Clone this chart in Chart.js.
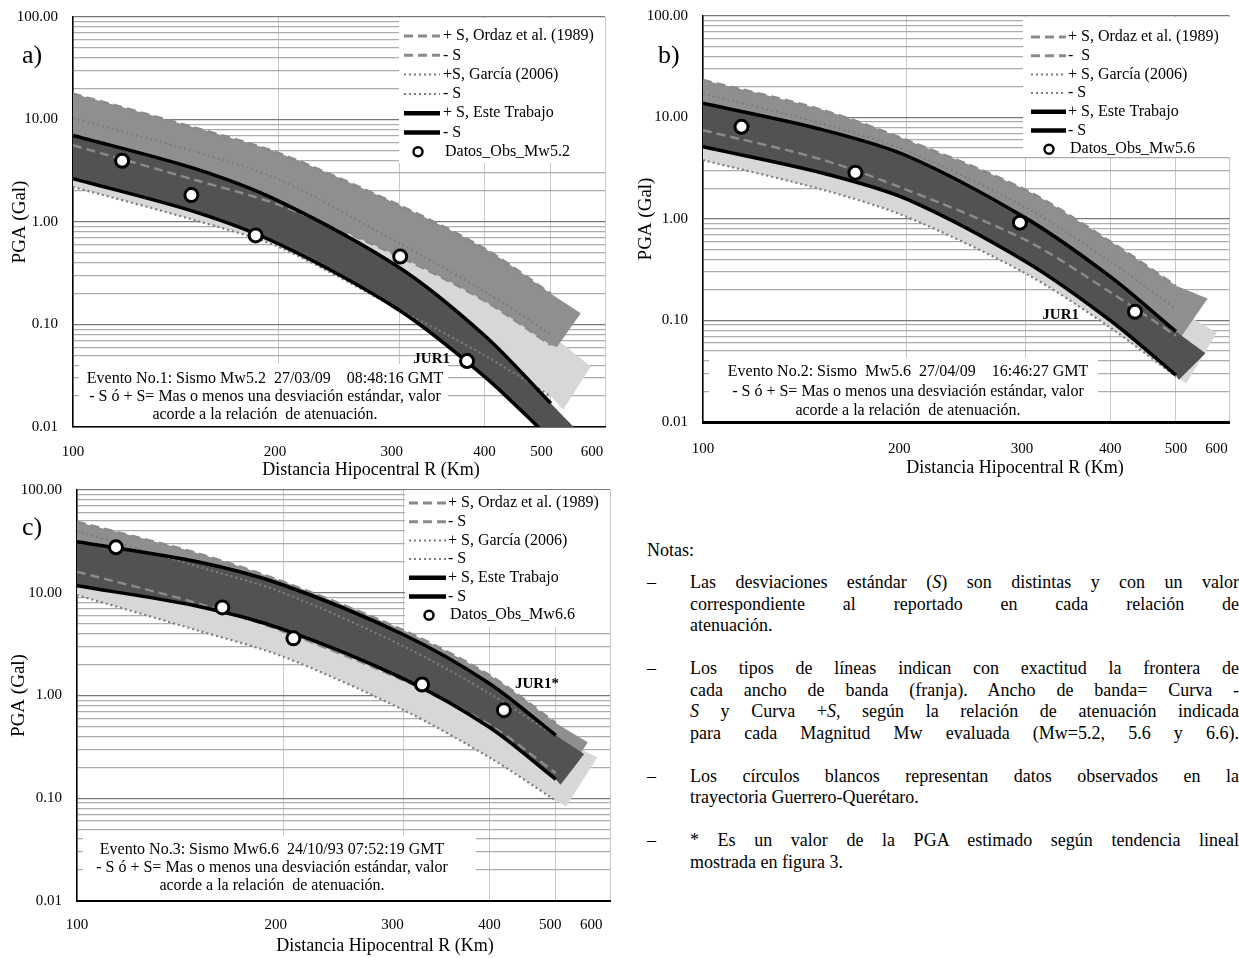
<!DOCTYPE html>
<html lang="es">
<head>
<meta charset="utf-8">
<title>PGA vs Distancia Hipocentral</title>
<script src="https://cdn.jsdelivr.net/npm/chart.js@4.4.1/dist/chart.umd.min.js"></script>
<style>
  html, body { margin: 0; padding: 0; background: #fff; }
  body { width: 1239px; height: 958px; position: relative; overflow: hidden;
         font-family: "Liberation Serif", "Times New Roman", serif; color: #000; }
  canvas { position: absolute; }
  #notas { position: absolute; left: 647px; top: 540px; width: 592px; font-size: 18px; line-height: 21.5px; }
  #notas .tit { margin-bottom: 10.75px; }
  #notas .nota { position: relative; margin-bottom: 21.5px; }
  #notas .guion { position: absolute; left: 0; top: 0; }
  #notas .texto { margin-left: 43px; width: 549px; }
  #notas .j { text-align: justify; text-align-last: justify; }
</style>
</head>
<body>
<canvas id="grafA" width="620" height="480" style="left:0;top:0"></canvas>
<canvas id="grafB" width="619" height="480" style="left:620px;top:0"></canvas>
<canvas id="grafC" width="620" height="482" style="left:0;top:476px"></canvas>

<div id="notas">
  <div class="tit">Notas:</div>
  <div class="nota"><span class="guion">–</span>
    <div class="texto">
      <div class="j">Las desviaciones estándar (<i>S</i>) son distintas y con un valor</div>
      <div class="j">correspondiente al reportado en cada relación de</div>
      <div>atenuación.</div>
    </div>
  </div>
  <div class="nota"><span class="guion">–</span>
    <div class="texto">
      <div class="j">Los tipos de líneas indican con exactitud la frontera de</div>
      <div class="j">cada ancho de banda (franja). Ancho de banda= Curva -</div>
      <div class="j"><i>S</i> y Curva +<i>S</i>, según la relación de atenuación indicada</div>
      <div class="j">para cada Magnitud Mw evaluada (Mw=5.2, 5.6 y 6.6).</div>
    </div>
  </div>
  <div class="nota"><span class="guion">–</span>
    <div class="texto">
      <div class="j">Los círculos blancos representan datos observados en la</div>
      <div>trayectoria Guerrero-Querétaro.</div>
    </div>
  </div>
  <div class="nota"><span class="guion">–</span>
    <div class="texto">
      <div class="j">* Es un valor de la PGA estimado según tendencia lineal</div>
      <div>mostrada en figura 3.</div>
    </div>
  </div>
</div>

<script>
// ejes
const xTicks = [100, 200, 300, 400, 500, 600];
const xTickLabels = ["100", "200", "300", "400", "500", "600"];
const yTickLabels = ["0.01", "0.10", "1.00", "10.00", "100.00"];
const distancias = [100, 150, 200, 300, 400, 500];

// a) Mw5.2
const ordazMasA = [17.9, 8.4, 4.7, 1.46, 0.55, 0.20];
const ordazMenosA = [5.6, 2.6, 1.47, 0.46, 0.17, 0.063];
const garciaMasA = [10.3, 4.9, 2.6, 0.62, 0.21, 0.08];
const garciaMenosA = [2.2, 1.05, 0.57, 0.14, 0.05, 0.02];
const esteMasA = [7.0, 3.35, 1.6, 0.36, 0.078, 0.017];
const esteMenosA = [2.65, 1.27, 0.61, 0.138, 0.031, 0.0076];
const finOrdazA = [[553, 0.129], [510, 0.060]];
const finGarciaA = [[572, 0.039], [521, 0.0147]];
const finEsteA = [[558, 0.008], [508, 0.006]];
const obsDistA = [118, 149, 185, 301, 377];
const obsPgaA = [3.96, 1.83, 0.74, 0.46, 0.044];

// b) Mw5.6
const ordazMasB = [23.4, 11.9, 6.0, 1.93, 0.6, 0.22];
const ordazMenosB = [7.5, 3.85, 1.94, 0.62, 0.19, 0.071];
const garciaMasB = [17.2, 8.7, 4.7, 1.3, 0.38, 0.13];
const garciaMenosB = [3.8, 1.95, 1.05, 0.29, 0.085, 0.028];
const esteMasB = [13.8, 7.6, 4.2, 1.02, 0.27, 0.078];
const esteMenosB = [5.15, 2.84, 1.57, 0.38, 0.10, 0.029];
const finOrdazB = [[557, 0.165], [508, 0.068]];
const finGarciaB = [[575, 0.076], [518, 0.024]];
const finEsteB = [[553, 0.0475], [505, 0.026]];
const obsDistB = [114, 168, 294, 435];
const obsPgaB = [8.1, 2.86, 0.92, 0.122];

// c) Mw6.6
const ordazMasC = [49, 24.2, 12.8, 4.3, 1.58, 0.54];
const ordazMenosC = [16, 7.9, 4.2, 1.4, 0.52, 0.176];
const garciaMasC = [40, 18, 10, 3.0, 1.05, 0.40];
const garciaMenosC = [9.5, 4.3, 2.39, 0.72, 0.25, 0.095];
const esteMasC = [31.4, 20, 11.9, 3.9, 1.31, 0.41];
const esteMenosC = [11.7, 7.4, 4.4, 1.45, 0.49, 0.153];
const finOrdazC = [[557, 0.35], [508, 0.14]];
const finGarciaC = [[575, 0.25], [518, 0.083]];
const finEsteC = [[550, 0.27], [508, 0.135]];
const obsDistC = [114, 163, 207, 319, 420];
const obsPgaC = [27.7, 7.2, 3.6, 1.28, 0.72];

const serif = '"Liberation Serif", "Times New Roman", serif';
Chart.defaults.font.family = serif;
Chart.defaults.color = "#000";

const yTicks = [];
for (let k = -2; k <= 1; k++) {
  for (let m = 1; m <= 9; m++) yTicks.push(m * Math.pow(10, k));
}
yTicks.push(100);

function esDecada(v) {
  const l = Math.log10(v);
  return Math.abs(l - Math.round(l)) < 1e-6;
}

function curva(r, v) {
  return r.map((x, i) => ({ x: x, y: v[i] }));
}

// contorno cerrado de una franja; los puntos repetidos dejan las esquinas rectas
function franja(r, mas, menos, fin) {
  const arriba = curva(r, mas);
  const abajo = curva(r, menos).reverse();
  const e1 = { x: fin[0][0], y: fin[0][1] };
  const e2 = { x: fin[1][0], y: fin[1][1] };
  return [...arriba, { ...arriba[arriba.length - 1] }, e1, { ...e1 }, e2, { ...e2 }, { ...abajo[0] }, ...abajo];
}

// desplaza a la izquierda la etiqueta añadiendo espacios (texto centrado)
function etiquetaX(i, px) {
  const n = Math.round(px / 1.875);
  return xTickLabels[i] + " ".repeat(n);
}

function decoracion(d) {
  return {
    id: "decoracion",
    beforeDatasetsDraw(chart) {
      const ctx = chart.ctx;
      const c = d.caja;
      ctx.save();
      ctx.fillStyle = "#fff";
      ctx.fillRect(c.x0, c.y0, c.x1 - c.x0, c.y1 - c.y0);
      ctx.fillStyle = "#000";
      ctx.font = "16px " + serif;
      ctx.textAlign = "center";
      ctx.textBaseline = "middle";
      c.lineas.forEach((t, i) => ctx.fillText(t, c.cx, c.y[i]));
      ctx.restore();
    },
    afterDatasetsDraw(chart) {
      const ctx = chart.ctx;
      const L = d.leyenda;
      ctx.save();
      ctx.fillStyle = "#fff";
      ctx.fillRect(L.x0, L.y0, L.x1 - L.x0, L.y1 - L.y0);
      ctx.font = "16px " + serif;
      ctx.textBaseline = "middle";
      ctx.textAlign = "left";
      const items = chart.data.datasets.filter(ds => ds.leyenda);
      items.forEach((ds, i) => {
        const y = L.fila0 + i * L.paso;
        if (ds.showLine === false) {
          ctx.beginPath();
          ctx.arc(L.circ, y, 4.5, 0, Math.PI * 2);
          ctx.fillStyle = "#fff";
          ctx.fill();
          ctx.lineWidth = 2.5;
          ctx.setLineDash([]);
          ctx.strokeStyle = "#000";
          ctx.stroke();
          ctx.fillStyle = "#000";
          ctx.fillText(ds.label, L.textoDatos, y);
        } else {
          ctx.beginPath();
          ctx.moveTo(L.m0, y);
          ctx.lineTo(L.m1, y);
          ctx.strokeStyle = ds.borderColor;
          ctx.lineWidth = ds.anchoLeyenda;
          ctx.setLineDash(ds.borderDash || []);
          ctx.stroke();
          ctx.fillStyle = "#000";
          ctx.fillText(ds.label, L.texto, y);
        }
      });
      ctx.restore();
    },
    afterDraw(chart) {
      const ctx = chart.ctx;
      ctx.save();
      ctx.fillStyle = "#000";
      ctx.font = "26px " + serif;
      ctx.textAlign = "left";
      ctx.textBaseline = "alphabetic";
      ctx.fillText(d.panel, d.panelX, d.panelY);
      ctx.font = "18px " + serif;
      ctx.textAlign = "center";
      ctx.textBaseline = "middle";
      ctx.fillText("Distancia Hipocentral R (Km)", d.tituloX, d.tituloY);
      const meta = chart.getDatasetMeta(chart.data.datasets.length - 1);
      const pt = meta.data[d.jur.punto];
      ctx.font = "bold 15px " + serif;
      ctx.textAlign = d.jur.alinear;
      ctx.fillText(d.jur.texto, pt.x + d.jur.dx, pt.y + d.jur.dy);
      ctx.restore();
    }
  };
}

function crearGrafico(id, p) {
  const base = { pointRadius: 0, tension: 0.3 };
  const ds = [
    { ...base, data: franja(distancias, p.garciaMas, p.garciaMenos, p.finGarcia), fill: "shape",
      backgroundColor: "#d7d7d7", borderColor: "rgba(0,0,0,0)", borderWidth: 1, order: 10 },
    { ...base, data: franja(distancias, p.ordazMas, p.ordazMenos, p.finOrdaz), fill: "shape",
      backgroundColor: "#8f8f8f", borderColor: "rgba(0,0,0,0)", borderWidth: 1, order: 9 },
    { ...base, data: franja(distancias, p.esteMas, p.esteMenos, p.finEste), fill: "shape",
      backgroundColor: "#525252", borderColor: "rgba(0,0,0,0)", borderWidth: 1, order: 8 },
    { ...base, label: p.etiquetas[0], data: curva(distancias, p.ordazMas), borderColor: "#8a8a8a", borderWidth: 2.5,
      borderDash: [9, 5], anchoLeyenda: 3, fill: false, order: 4, leyenda: true },
    { ...base, label: p.etiquetas[1], data: curva(distancias, p.ordazMenos), borderColor: "#8a8a8a", borderWidth: 2.5,
      borderDash: [9, 5], anchoLeyenda: 3, fill: false, order: 4, leyenda: true },
    { ...base, label: p.etiquetas[2], data: curva(distancias, p.garciaMas), borderColor: "#7d7d7d", borderWidth: 2.2,
      borderDash: [2, 3], anchoLeyenda: 2, fill: false, order: 5, leyenda: true },
    { ...base, label: p.etiquetas[3], data: curva(distancias, p.garciaMenos), borderColor: "#7d7d7d", borderWidth: 2.2,
      borderDash: [2, 3], anchoLeyenda: 2, fill: false, order: 5, leyenda: true },
    { ...base, label: p.etiquetas[4], data: curva(distancias, p.esteMas), borderColor: "#000", borderWidth: 3.5,
      anchoLeyenda: 4.5, fill: false, order: 3, leyenda: true },
    { ...base, label: p.etiquetas[5], data: curva(distancias, p.esteMenos), borderColor: "#000", borderWidth: 3.5,
      anchoLeyenda: 4.5, fill: false, order: 3, leyenda: true },
    { label: p.etiquetas[6], data: curva(p.obsDist, p.obsPga), showLine: false, pointRadius: 6.5,
      pointBorderWidth: 3, pointBackgroundColor: "#fff", pointBorderColor: "#000", order: 1, leyenda: true }
  ];

  return new Chart(document.getElementById(id), {
    type: "line",
    data: { datasets: ds },
    options: {
      responsive: false,
      animation: false,
      events: [],
      layout: { padding: { top: p.padTop, right: p.padRight, left: 0, bottom: 0 } },
      plugins: { legend: { display: false }, tooltip: { enabled: false } },
      scales: {
        x: {
          type: "logarithmic", min: 100, max: 600,
          afterFit: s => { s.height = p.altoX; s.paddingLeft = 0; s.paddingRight = 0; },
          afterBuildTicks: s => { s.ticks = xTicks.map(v => ({ value: v })); },
          ticks: { autoSkip: false, maxRotation: 0, padding: p.padTickX, font: { size: 15 },
                   callback: (v) => {
                     const i = xTicks.indexOf(v);
                     return i < 0 ? "" : etiquetaX(i, p.desplazX[i]);
                   } },
          grid: { color: "#c8c8c8", lineWidth: 1, drawTicks: false },
          border: { color: "#000", width: p.bordeX }
        },
        y: {
          type: "logarithmic", min: 0.01, max: 100,
          afterFit: s => { s.width = p.anchoY; s.paddingTop = 0; s.paddingBottom = 0; },
          afterBuildTicks: s => { s.ticks = yTicks.map(v => ({ value: v })); },
          ticks: { autoSkip: false, padding: 15, font: { size: 15 },
                   callback: v => (esDecada(v) ? yTickLabels[Math.round(Math.log10(v)) + 2] : "") },
          grid: {
            color: c => (c.tick && esDecada(c.tick.value) ? "#777777" : "#acacac"),
            lineWidth: 1.3, drawTicks: false
          },
          border: { color: "#000", width: 1.5 },
          title: { display: true, text: "PGA (Gal)", font: { size: 19 }, padding: { top: p.padTituloY } }
        }
      }
    },
    plugins: [decoracion(p.deco)]
  });
}

crearGrafico("grafA", {
  ordazMas: ordazMasA, ordazMenos: ordazMenosA, garciaMas: garciaMasA, garciaMenos: garciaMenosA,
  esteMas: esteMasA, esteMenos: esteMenosA, finOrdaz: finOrdazA, finGarcia: finGarciaA, finEste: finEsteA,
  obsDist: obsDistA, obsPga: obsPgaA,
  etiquetas: ["+ S, Ordaz et al. (1989)", "- S", "+S, García (2006)", "- S", "+ S, Este Trabajo", "- S", "Datos_Obs_Mw5.2"],
  padTop: 17, padRight: 15, altoX: 53, anchoY: 73, padTickX: 16, bordeX: 1.5, padTituloY: 9,
  desplazX: [0, 4, 8, 0, 9, 13],
  deco: {
    panel: "a)", panelX: 22, panelY: 63, tituloX: 371, tituloY: 470,
    caja: { x0: 79, y0: 364, x1: 448, y1: 426, cx: 265, y: [379, 397, 415],
            lineas: ["Evento No.1: Sismo Mw5.2  27/03/09    08:48:16 GMT",
                     "- S ó + S= Mas o menos una desviación estándar, valor",
                     "acorde a la relación  de atenuación."] },
    leyenda: { x0: 399, y0: 18, x1: 605, y1: 163, fila0: 36, paso: 19.3, m0: 404, m1: 440, texto: 443, circ: 418, textoDatos: 445 },
    jur: { texto: "JUR1", punto: 4, dx: -17, dy: -2, alinear: "right" }
  }
});

crearGrafico("grafB", {
  ordazMas: ordazMasB, ordazMenos: ordazMenosB, garciaMas: garciaMasB, garciaMenos: garciaMenosB,
  esteMas: esteMasB, esteMenos: esteMenosB, finOrdaz: finOrdazB, finGarcia: finGarciaB, finEste: finEsteB,
  obsDist: obsDistB, obsPga: obsPgaB,
  etiquetas: ["+ S, Ordaz et al. (1989)", "-  S", "+ S, García (2006)", "- S", "+ S, Este Trabajo", "- S", "Datos_Obs_Mw5.6"],
  padTop: 16, padRight: 8, altoX: 58, anchoY: 83, padTickX: 18, bordeX: 3, padTituloY: 15,
  desplazX: [0, 8, 4, 0, 0, 14],
  deco: {
    panel: "b)", panelX: 38, panelY: 63, tituloX: 395, tituloY: 468,
    caja: { x0: 89, y0: 358, x1: 478, y1: 421, cx: 288, y: [372, 392, 411],
            lineas: ["Evento No.2: Sismo  Mw5.6  27/04/09    16:46:27 GMT",
                     "- S ó + S= Mas o menos una desviación estándar, valor",
                     "acorde a la relación  de atenuación."] },
    leyenda: { x0: 403, y0: 17, x1: 611, y1: 157, fila0: 37, paso: 18.7, m0: 411, m1: 446, texto: 448, circ: 429, textoDatos: 450 },
    jur: { texto: "JUR1", punto: 3, dx: -56, dy: 3, alinear: "right" }
  }
});

crearGrafico("grafC", {
  ordazMas: ordazMasC, ordazMenos: ordazMenosC, garciaMas: garciaMasC, garciaMenos: garciaMenosC,
  esteMas: esteMasC, esteMenos: esteMenosC, finOrdaz: finOrdazC, finGarcia: finGarciaC, finEste: finEsteC,
  obsDist: obsDistC, obsPga: obsPgaC,
  etiquetas: ["+ S, Ordaz et al. (1989)", "- S", "+ S, García (2006)", "- S", "+ S, Este Trabajo", "- S", "Datos_Obs_Mw6.6"],
  padTop: 14, padRight: 10, altoX: 57, anchoY: 77, padTickX: 15, bordeX: 2, padTituloY: 8,
  desplazX: [0, 8, 11, 0, 5, 18],
  deco: {
    panel: "c)", panelX: 22, panelY: 59, tituloX: 385, tituloY: 470,
    caja: { x0: 83, y0: 360, x1: 476, y1: 424, cx: 272, y: [374, 392, 410],
            lineas: ["Evento No.3: Sismo Mw6.6  24/10/93 07:52:19 GMT",
                     "- S ó + S= Mas o menos una desviación estándar, valor",
                     "acorde a la relación  de atenuación."] },
    leyenda: { x0: 405, y0: 14, x1: 610, y1: 151, fila0: 27, paso: 18.7, m0: 409, m1: 446, texto: 448, circ: 429, textoDatos: 450 },
    jur: { texto: "JUR1*", punto: 4, dx: 11, dy: -26, alinear: "left" }
  }
});
</script>
</body>
</html>
